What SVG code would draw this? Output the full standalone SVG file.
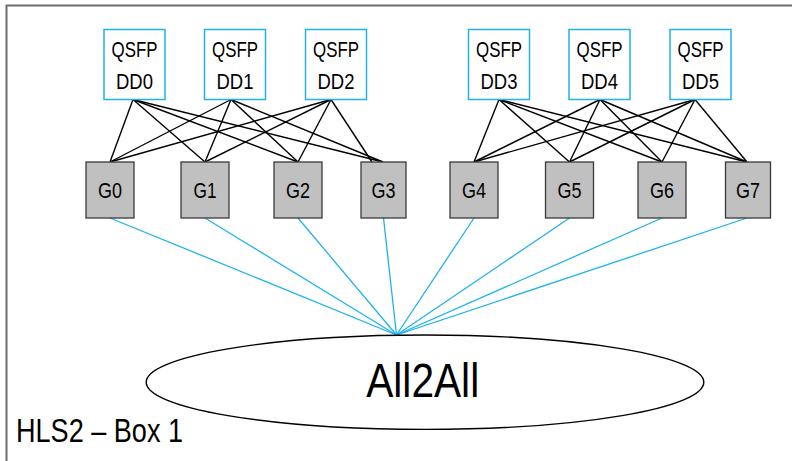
<svg xmlns="http://www.w3.org/2000/svg" width="792" height="461" viewBox="0 0 792 461">
<style>
.qs{fill:#fff;stroke:#1fb3ea;stroke-width:1.5}
.g{fill:#c0c0c0;stroke:#3a3a3a;stroke-width:1.3}
.t{font-family:"Liberation Sans",Arial,sans-serif;fill:#000;text-anchor:middle}
.s{font-size:22px}
.bk line{stroke:#000;stroke-width:1.4}
.bl line{stroke:#1fb3ea;stroke-width:1.3}
</style>
<rect width="792" height="461" fill="#fff"/>
<path d="M6.5 461 V5.5 H792" fill="none" stroke="#6f6f6f" stroke-width="2"/>
<g id="connectors">
<g class="bk">
<line x1="133" y1="99.5" x2="110" y2="162"/>
<line x1="133" y1="99.5" x2="205" y2="162"/>
<line x1="133" y1="99.5" x2="298" y2="162"/>
<line x1="133" y1="99.5" x2="383" y2="162"/>
<line x1="231" y1="99.5" x2="110" y2="162"/>
<line x1="231" y1="99.5" x2="205" y2="162"/>
<line x1="231" y1="99.5" x2="298" y2="162"/>
<line x1="231" y1="99.5" x2="383" y2="162"/>
<line x1="331" y1="99.5" x2="110" y2="162"/>
<line x1="331" y1="99.5" x2="205" y2="162"/>
<line x1="331" y1="99.5" x2="298" y2="162"/>
<line x1="331" y1="99.5" x2="372" y2="162"/>
<line x1="499" y1="99.5" x2="474" y2="162"/>
<line x1="499" y1="99.5" x2="569.5" y2="162"/>
<line x1="499" y1="99.5" x2="662" y2="162"/>
<line x1="499" y1="99.5" x2="747" y2="162"/>
<line x1="600" y1="99.5" x2="474" y2="162"/>
<line x1="600" y1="99.5" x2="569.5" y2="162"/>
<line x1="600" y1="99.5" x2="662" y2="162"/>
<line x1="600" y1="99.5" x2="747" y2="162"/>
<line x1="695" y1="99.5" x2="474" y2="162"/>
<line x1="695" y1="99.5" x2="569.5" y2="162"/>
<line x1="695" y1="99.5" x2="662" y2="162"/>
<line x1="695" y1="99.5" x2="747" y2="162"/>
</g>
<g class="bl">
<line x1="110" y1="218" x2="396.5" y2="335"/>
<line x1="205" y1="218" x2="396.5" y2="335"/>
<line x1="298" y1="218" x2="396.5" y2="335"/>
<line x1="383.5" y1="218" x2="396.5" y2="335"/>
<line x1="474" y1="218" x2="396.5" y2="335"/>
<line x1="569.5" y1="218" x2="396.5" y2="335"/>
<line x1="662" y1="218" x2="396.5" y2="335"/>
<line x1="747" y1="218" x2="396.5" y2="335"/>
</g>
</g>
<g id="dd0"><rect class="qs" x="104" y="29.5" width="61" height="70"/><text class="t s" x="134.5" y="57.3" textLength="46" lengthAdjust="spacingAndGlyphs">QSFP</text><text class="t s" x="134.5" y="89" textLength="37" lengthAdjust="spacingAndGlyphs">DD0</text></g>
<g id="dd1"><rect class="qs" x="204.5" y="29.5" width="61" height="70"/><text class="t s" x="235" y="57.3" textLength="46" lengthAdjust="spacingAndGlyphs">QSFP</text><text class="t s" x="235" y="89" textLength="37" lengthAdjust="spacingAndGlyphs">DD1</text></g>
<g id="dd2"><rect class="qs" x="305.5" y="29.5" width="61" height="70"/><text class="t s" x="336" y="57.3" textLength="46" lengthAdjust="spacingAndGlyphs">QSFP</text><text class="t s" x="336" y="89" textLength="37" lengthAdjust="spacingAndGlyphs">DD2</text></g>
<g id="dd3"><rect class="qs" x="468.5" y="29.5" width="61" height="70"/><text class="t s" x="499" y="57.3" textLength="46" lengthAdjust="spacingAndGlyphs">QSFP</text><text class="t s" x="499" y="89" textLength="37" lengthAdjust="spacingAndGlyphs">DD3</text></g>
<g id="dd4"><rect class="qs" x="569" y="29.5" width="61" height="70"/><text class="t s" x="599.5" y="57.3" textLength="46" lengthAdjust="spacingAndGlyphs">QSFP</text><text class="t s" x="599.5" y="89" textLength="37" lengthAdjust="spacingAndGlyphs">DD4</text></g>
<g id="dd5"><rect class="qs" x="670" y="29.5" width="61" height="70"/><text class="t s" x="700.5" y="57.3" textLength="46" lengthAdjust="spacingAndGlyphs">QSFP</text><text class="t s" x="700.5" y="89" textLength="37" lengthAdjust="spacingAndGlyphs">DD5</text></g>
<g id="g0"><rect class="g" x="86" y="162" width="48" height="56"/><text class="t s" x="110" y="198.3" textLength="24" lengthAdjust="spacingAndGlyphs">G0</text></g>
<g id="g1"><rect class="g" x="181" y="162" width="48" height="56"/><text class="t s" x="205" y="198.3" textLength="23" lengthAdjust="spacingAndGlyphs">G1</text></g>
<g id="g2"><rect class="g" x="274" y="162" width="48" height="56"/><text class="t s" x="298" y="198.3" textLength="24" lengthAdjust="spacingAndGlyphs">G2</text></g>
<g id="g3"><rect class="g" x="361" y="162" width="45" height="56"/><text class="t s" x="383.5" y="198.3" textLength="24" lengthAdjust="spacingAndGlyphs">G3</text></g>
<g id="g4"><rect class="g" x="450" y="162" width="48" height="56"/><text class="t s" x="474" y="198.3" textLength="24" lengthAdjust="spacingAndGlyphs">G4</text></g>
<g id="g5"><rect class="g" x="545.5" y="162" width="48" height="56"/><text class="t s" x="569.5" y="198.3" textLength="24" lengthAdjust="spacingAndGlyphs">G5</text></g>
<g id="g6"><rect class="g" x="638" y="162" width="48" height="56"/><text class="t s" x="662" y="198.3" textLength="24" lengthAdjust="spacingAndGlyphs">G6</text></g>
<g id="g7"><rect class="g" x="725.5" y="162" width="45" height="56"/><text class="t s" x="748" y="198.3" textLength="24" lengthAdjust="spacingAndGlyphs">G7</text></g>
<g id="all2all"><ellipse cx="425" cy="382.2" rx="278.8" ry="47.2" fill="#fff" stroke="#000" stroke-width="1.4"/><text class="t" x="422.7" y="397.3" font-size="48" textLength="113" lengthAdjust="spacingAndGlyphs">All2All</text></g>
<g id="label"><text x="16" y="442.3" font-family="Liberation Sans,Arial,sans-serif" font-size="33" textLength="167" lengthAdjust="spacingAndGlyphs">HLS2 – Box 1</text></g>
</svg>
